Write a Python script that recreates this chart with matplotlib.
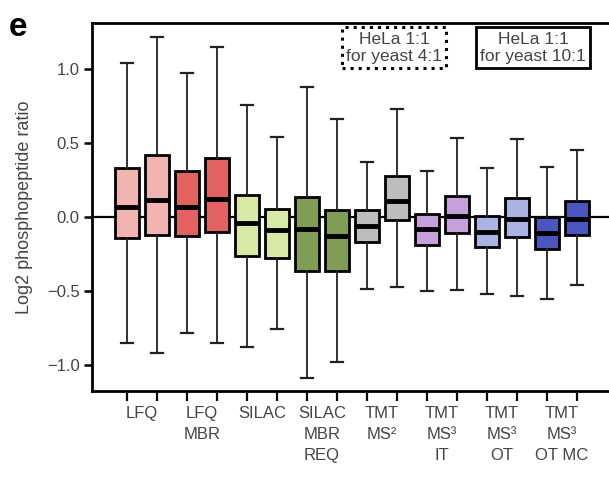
import matplotlib
matplotlib.use("Agg")
import matplotlib.pyplot as plt
from matplotlib import transforms

plt.rcParams["font.family"] = ["Liberation Sans", "DejaVu Sans"]

# box statistics (log2 ratio)
q1 = [-0.142, -0.124, -0.128, -0.105, -0.264, -0.281, -0.365, -0.367,
      -0.169, -0.022, -0.191, -0.112, -0.203, -0.135, -0.220, -0.124]
med = [0.064, 0.113, 0.068, 0.120, -0.041, -0.090, -0.081, -0.128,
       -0.063, 0.108, -0.085, 0.005, -0.101, -0.016, -0.112, -0.018]
q3 = [0.327, 0.417, 0.309, 0.399, 0.147, 0.050, 0.135, 0.045,
      0.045, 0.275, 0.018, 0.142, 0.005, 0.124, 0.000, 0.108]
whislo = [-0.851, -0.919, -0.788, -0.851, -0.882, -0.757, -1.088, -0.980,
          -0.490, -0.475, -0.502, -0.493, -0.520, -0.534, -0.554, -0.461]
whishi = [1.036, 1.216, 0.973, 1.149, 0.755, 0.541, 0.876, 0.660,
          0.370, 0.728, 0.309, 0.530, 0.327, 0.525, 0.338, 0.451]

colors = ["#f2b4b1", "#f2b4b1", "#e3615f", "#e3615f",
          "#d6eaa6", "#d6eaa6", "#7f9d55", "#7f9d55",
          "#bdbdbd", "#bdbdbd", "#c6a0db", "#c6a0db",
          "#aab2e6", "#aab2e6", "#4a55c0", "#4a55c0"]

categories = ["LFQ", "LFQ\nMBR", "SILAC", "SILAC\nMBR\nREQ",
              "TMT\nMS\u00b2", "TMT\nMS\u00b3\nIT", "TMT\nMS\u00b3\nOT", "TMT\nMS\u00b3\nOT MC"]

positions = list(range(1, len(med) + 1))

fig = plt.figure(figsize=(6.09, 4.82), dpi=100)
ax = fig.add_axes([0.151, 0.189, 0.849, 0.764])

stats = [
    {"q1": a, "med": m, "q3": b, "whislo": lo, "whishi": hi, "fliers": []}
    for a, m, b, lo, hi in zip(q1, med, q3, whislo, whishi)
]

ax.axhline(0, color="black", lw=1.6, zorder=1)
bp = ax.bxp(
    stats,
    positions=positions,
    widths=0.82,
    capwidths=0.42,
    patch_artist=True,
    showfliers=False,
    boxprops=dict(edgecolor="black", linewidth=2.0),
    medianprops=dict(color="black", linewidth=3.5),
    whiskerprops=dict(color="#222222", linewidth=1.3),
    capprops=dict(color="#222222", linewidth=1.6),
    zorder=2,
)
for patch, c in zip(bp["boxes"], colors):
    patch.set_facecolor(c)

ax.set_xlim(-0.17, 17.07)
ax.set_ylim(-1.178, 1.311)

ax.set_yticks([-1.0, -0.5, 0.0, 0.5, 1.0])
ax.set_yticklabels(["\u22121.0", "\u22120.5", "0.0", "0.5", "1.0"])
ax.tick_params(axis="y", length=6, width=1.8, color="black",
               labelsize=12, labelcolor="#444444", pad=3)

ax.set_xticks(positions)
ax.set_xticklabels([])
ax.tick_params(axis="x", length=7, width=1.6)
for tick, c in zip(ax.xaxis.get_major_ticks(), colors):
    tick.tick1line.set_color(c)

trans = transforms.blended_transform_factory(ax.transData, ax.transAxes)
for i, lab in enumerate(categories):
    ax.text(2 * i + 1.5, -0.04, lab, transform=trans, ha="center", va="top",
            fontsize=12, color="#444444", linespacing=1.5)

ax.set_ylabel("Log2 phosphopeptide ratio", fontsize=13, color="#444444", labelpad=10)

for side in ["left", "top", "bottom"]:
    ax.spines[side].set_linewidth(2.0)
    ax.spines[side].set_color("black")
ax.spines["right"].set_visible(False)

ax.text(0.584, 0.932, "HeLa 1:1\nfor yeast 4:1", transform=ax.transAxes,
        ha="center", va="center", fontsize=12.5, color="#444444", linespacing=1.15,
        bbox=dict(boxstyle="square,pad=0.25", facecolor="white",
                  edgecolor="black", linestyle=":", linewidth=2.2))
ax.text(0.853, 0.932, "HeLa 1:1\nfor yeast 10:1", transform=ax.transAxes,
        ha="center", va="center", fontsize=12.5, color="#444444", linespacing=1.15,
        bbox=dict(boxstyle="square,pad=0.25", facecolor="white",
                  edgecolor="black", linewidth=2.0))

fig.text(0.015, 0.975, "e", fontsize=24, fontweight="bold", ha="left", va="top")

fig.savefig("out.png", dpi=100)
